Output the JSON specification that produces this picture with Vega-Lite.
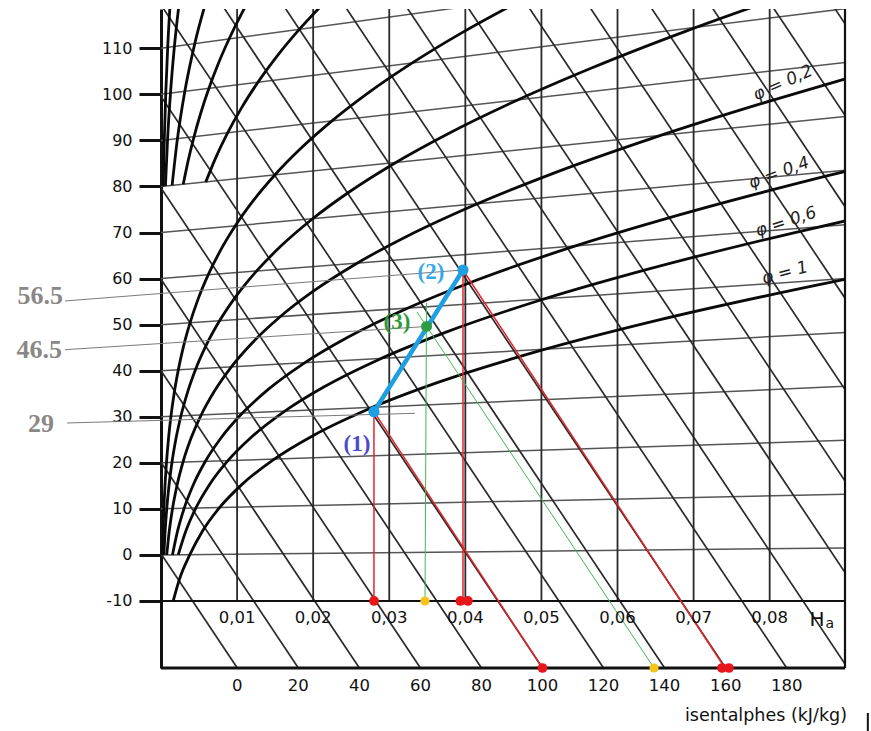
{
  "$schema": "https://vega.github.io/schema/vega-lite/v6.json",
  "width": 684,
  "height": 659,
  "autosize": {"type": "none"},
  "padding": {"left": 161, "top": 9, "right": 26, "bottom": 63},
  "background": "white",
  "config": {"view": {"stroke": null}},
  "datasets": {
    "isotherms": [
      {"T": 0, "Ha": 0, "Y": 0, "Ha2": 0.0899, "Y2": 1.5},
      {"T": 10, "Ha": 0, "Y": 10, "Ha2": 0.0899, "Y2": 13.2},
      {"T": 20, "Ha": 0, "Y": 20, "Ha2": 0.0899, "Y2": 24.9},
      {"T": 30, "Ha": 0, "Y": 30, "Ha2": 0.0899, "Y2": 36.6},
      {"T": 40, "Ha": 0, "Y": 40, "Ha2": 0.0899, "Y2": 48.3},
      {"T": 50, "Ha": 0, "Y": 50, "Ha2": 0.0899, "Y2": 60.0},
      {"T": 60, "Ha": 0, "Y": 60, "Ha2": 0.0899, "Y2": 71.7},
      {"T": 70, "Ha": 0, "Y": 70, "Ha2": 0.0899, "Y2": 83.5},
      {"T": 80, "Ha": 0, "Y": 80, "Ha2": 0.0899, "Y2": 95.2},
      {"T": 90, "Ha": 0, "Y": 90, "Ha2": 0.0899, "Y2": 106.9},
      {"T": 100, "Ha": 0, "Y": 100, "Ha2": 0.0899, "Y2": 118.6},
      {"T": 110, "Ha": 0, "Y": 110, "Ha2": 0.0899, "Y2": 130.3}
    ],
    "isenthalps": [
      {"h": 0, "Ha": 0, "Y": 0.27, "Ha2": 0.010028, "Y2": -24.55},
      {"h": 20, "Ha": 0, "Y": 20.13, "Ha2": 0.018051, "Y2": -24.55},
      {"h": 40, "Ha": 0, "Y": 39.98, "Ha2": 0.026074, "Y2": -24.55},
      {"h": 60, "Ha": 0, "Y": 59.84, "Ha2": 0.034097, "Y2": -24.55},
      {"h": 80, "Ha": 0, "Y": 79.69, "Ha2": 0.04212, "Y2": -24.55},
      {"h": 100, "Ha": 0, "Y": 99.55, "Ha2": 0.050143, "Y2": -24.55},
      {"h": 120, "Ha": 0, "Y": 119.41, "Ha2": 0.058166, "Y2": -24.55},
      {"h": 140, "Ha": 0, "Y": 139.26, "Ha2": 0.066189, "Y2": -24.55},
      {"h": 160, "Ha": 0, "Y": 159.12, "Ha2": 0.074212, "Y2": -24.55},
      {"h": 180, "Ha": 0, "Y": 178.97, "Ha2": 0.082235, "Y2": -24.55},
      {"h": 200, "Ha": 0, "Y": 198.83, "Ha2": 0.090258, "Y2": -24.55},
      {"h": 220, "Ha": 0, "Y": 218.69, "Ha2": 0.098281, "Y2": -24.55},
      {"h": 240, "Ha": 0, "Y": 238.54, "Ha2": 0.106304, "Y2": -24.55},
      {"h": 260, "Ha": 0, "Y": 258.4, "Ha2": 0.114327, "Y2": -24.55},
      {"h": 280, "Ha": 0, "Y": 278.25, "Ha2": 0.12235, "Y2": -24.55},
      {"h": 300, "Ha": 0, "Y": 298.11, "Ha2": 0.130373, "Y2": -24.55},
      {"h": 320, "Ha": 0, "Y": 317.97, "Ha2": 0.138396, "Y2": -24.55},
      {"h": 340, "Ha": 0, "Y": 337.82, "Ha2": 0.146419, "Y2": -24.55}
    ],
    "verticals": [
      {"Ha": 0.01, "Y": -10, "Ha2": 0.01, "Y2": 118.53},
      {"Ha": 0.02, "Y": -10, "Ha2": 0.02, "Y2": 118.53},
      {"Ha": 0.03, "Y": -10, "Ha2": 0.03, "Y2": 118.53},
      {"Ha": 0.04, "Y": -10, "Ha2": 0.04, "Y2": 118.53},
      {"Ha": 0.05, "Y": -10, "Ha2": 0.05, "Y2": 118.53},
      {"Ha": 0.06, "Y": -10, "Ha2": 0.06, "Y2": 118.53},
      {"Ha": 0.07, "Y": -10, "Ha2": 0.07, "Y2": 118.53},
      {"Ha": 0.08, "Y": -10, "Ha2": 0.08, "Y2": 118.53}
    ],
    "frame": [
      {"Ha": 0, "Y": -10, "Ha2": 0.0899, "Y2": -10},
      {"Ha": 0.0899, "Y": -24.55, "Ha2": 0.0899, "Y2": 118.53}
    ],
    "frameBottom": [
      {"Ha": 0, "Y": -24.55, "Ha2": 0.0899, "Y2": -24.55}
    ],
    "phi": [
      {"phi": "1", "T": -10, "Ha": 0.0016, "Y": -10.03},
      {"phi": "1", "T": -5, "Ha": 0.002476, "Y": -5.02},
      {"phi": "1", "T": 0, "Ha": 0.003775, "Y": 0},
      {"phi": "1", "T": 5, "Ha": 0.005403, "Y": 5.05},
      {"phi": "1", "T": 10, "Ha": 0.007632, "Y": 10.15},
      {"phi": "1", "T": 15, "Ha": 0.01065, "Y": 15.32},
      {"phi": "1", "T": 20, "Ha": 0.014699, "Y": 20.59},
      {"phi": "1", "T": 25, "Ha": 0.020086, "Y": 26.0},
      {"phi": "1", "T": 30, "Ha": 0.02721, "Y": 31.63},
      {"phi": "1", "T": 35, "Ha": 0.036585, "Y": 37.56},
      {"phi": "1", "T": 40, "Ha": 0.048894, "Y": 43.91},
      {"phi": "1", "T": 45, "Ha": 0.065057, "Y": 50.86},
      {"phi": "1", "T": 50, "Ha": 0.086345, "Y": 58.63},
      {"phi": "1", "T": 51, "Ha": 0.09131, "Y": 60.31},
      {"phi": "0.6", "T": 0, "Ha": 0.002259, "Y": 0},
      {"phi": "0.6", "T": 5, "Ha": 0.003231, "Y": 5.03},
      {"phi": "0.6", "T": 10, "Ha": 0.004557, "Y": 10.09},
      {"phi": "0.6", "T": 15, "Ha": 0.006346, "Y": 15.19},
      {"phi": "0.6", "T": 20, "Ha": 0.008737, "Y": 20.35},
      {"phi": "0.6", "T": 25, "Ha": 0.011898, "Y": 25.6},
      {"phi": "0.6", "T": 30, "Ha": 0.016045, "Y": 30.96},
      {"phi": "0.6", "T": 35, "Ha": 0.021446, "Y": 36.5},
      {"phi": "0.6", "T": 40, "Ha": 0.028442, "Y": 42.28},
      {"phi": "0.6", "T": 45, "Ha": 0.037466, "Y": 48.37},
      {"phi": "0.6", "T": 50, "Ha": 0.049081, "Y": 54.91},
      {"phi": "0.6", "T": 55, "Ha": 0.064027, "Y": 62.04},
      {"phi": "0.6", "T": 60, "Ha": 0.083308, "Y": 70.0},
      {"phi": "0.6", "T": 62, "Ha": 0.09236, "Y": 73.45},
      {"phi": "0.4", "T": 0, "Ha": 0.001505, "Y": 0},
      {"phi": "0.4", "T": 5, "Ha": 0.00215, "Y": 5.02},
      {"phi": "0.4", "T": 10, "Ha": 0.003031, "Y": 10.06},
      {"phi": "0.4", "T": 15, "Ha": 0.004217, "Y": 15.13},
      {"phi": "0.4", "T": 20, "Ha": 0.005797, "Y": 20.23},
      {"phi": "0.4", "T": 25, "Ha": 0.007882, "Y": 25.39},
      {"phi": "0.4", "T": 30, "Ha": 0.010605, "Y": 30.64},
      {"phi": "0.4", "T": 35, "Ha": 0.014135, "Y": 35.99},
      {"phi": "0.4", "T": 40, "Ha": 0.018677, "Y": 41.49},
      {"phi": "0.4", "T": 45, "Ha": 0.024487, "Y": 47.2},
      {"phi": "0.4", "T": 50, "Ha": 0.031882, "Y": 53.19},
      {"phi": "0.4", "T": 55, "Ha": 0.041268, "Y": 59.54},
      {"phi": "0.4", "T": 60, "Ha": 0.053163, "Y": 66.38},
      {"phi": "0.4", "T": 65, "Ha": 0.06823, "Y": 73.87},
      {"phi": "0.4", "T": 70, "Ha": 0.087374, "Y": 82.23},
      {"phi": "0.4", "T": 72, "Ha": 0.09627, "Y": 85.86},
      {"phi": "0.2", "T": 0, "Ha": 0.000752, "Y": 0},
      {"phi": "0.2", "T": 5, "Ha": 0.001074, "Y": 5.01},
      {"phi": "0.2", "T": 10, "Ha": 0.001511, "Y": 10.03},
      {"phi": "0.2", "T": 15, "Ha": 0.002102, "Y": 15.06},
      {"phi": "0.2", "T": 20, "Ha": 0.002885, "Y": 20.12},
      {"phi": "0.2", "T": 25, "Ha": 0.003916, "Y": 25.2},
      {"phi": "0.2", "T": 30, "Ha": 0.005258, "Y": 30.32},
      {"phi": "0.2", "T": 35, "Ha": 0.006988, "Y": 35.49},
      {"phi": "0.2", "T": 40, "Ha": 0.0092, "Y": 40.74},
      {"phi": "0.2", "T": 45, "Ha": 0.012007, "Y": 46.08},
      {"phi": "0.2", "T": 50, "Ha": 0.015543, "Y": 51.55},
      {"phi": "0.2", "T": 55, "Ha": 0.019972, "Y": 57.2},
      {"phi": "0.2", "T": 60, "Ha": 0.025492, "Y": 63.06},
      {"phi": "0.2", "T": 65, "Ha": 0.032343, "Y": 69.2},
      {"phi": "0.2", "T": 70, "Ha": 0.04082, "Y": 75.71},
      {"phi": "0.2", "T": 75, "Ha": 0.051292, "Y": 82.69},
      {"phi": "0.2", "T": 80, "Ha": 0.064226, "Y": 90.28},
      {"phi": "0.2", "T": 85, "Ha": 0.080212, "Y": 98.64},
      {"phi": "0.2", "T": 88, "Ha": 0.091517, "Y": 104.11},
      {"phi": "0.1", "T": 0, "Ha": 0.000375, "Y": 0},
      {"phi": "0.1", "T": 5, "Ha": 0.000536, "Y": 5.01},
      {"phi": "0.1", "T": 10, "Ha": 0.000755, "Y": 10.02},
      {"phi": "0.1", "T": 15, "Ha": 0.001049, "Y": 15.03},
      {"phi": "0.1", "T": 20, "Ha": 0.001439, "Y": 20.06},
      {"phi": "0.1", "T": 25, "Ha": 0.001951, "Y": 25.1},
      {"phi": "0.1", "T": 30, "Ha": 0.002618, "Y": 30.16},
      {"phi": "0.1", "T": 35, "Ha": 0.003474, "Y": 35.24},
      {"phi": "0.1", "T": 40, "Ha": 0.004566, "Y": 40.37},
      {"phi": "0.1", "T": 45, "Ha": 0.005946, "Y": 45.54},
      {"phi": "0.1", "T": 50, "Ha": 0.007676, "Y": 50.77},
      {"phi": "0.1", "T": 55, "Ha": 0.009828, "Y": 56.08},
      {"phi": "0.1", "T": 60, "Ha": 0.01249, "Y": 61.5},
      {"phi": "0.1", "T": 65, "Ha": 0.015762, "Y": 67.05},
      {"phi": "0.1", "T": 70, "Ha": 0.019762, "Y": 72.77},
      {"phi": "0.1", "T": 75, "Ha": 0.02463, "Y": 78.69},
      {"phi": "0.1", "T": 80, "Ha": 0.030536, "Y": 84.89},
      {"phi": "0.1", "T": 85, "Ha": 0.037675, "Y": 91.4},
      {"phi": "0.1", "T": 90, "Ha": 0.04629, "Y": 98.33},
      {"phi": "0.1", "T": 95, "Ha": 0.056671, "Y": 105.77},
      {"phi": "0.1", "T": 100, "Ha": 0.069184, "Y": 113.84},
      {"phi": "0.1", "T": 103, "Ha": 0.07792, "Y": 119.05},
      {"phi": "0.05", "T": 0, "Ha": 0.000188, "Y": 0},
      {"phi": "0.05", "T": 5, "Ha": 0.000268, "Y": 5.0},
      {"phi": "0.05", "T": 10, "Ha": 0.000377, "Y": 10.01},
      {"phi": "0.05", "T": 15, "Ha": 0.000524, "Y": 15.02},
      {"phi": "0.05", "T": 20, "Ha": 0.000719, "Y": 20.03},
      {"phi": "0.05", "T": 25, "Ha": 0.000974, "Y": 25.05},
      {"phi": "0.05", "T": 30, "Ha": 0.001306, "Y": 30.08},
      {"phi": "0.05", "T": 35, "Ha": 0.001731, "Y": 35.12},
      {"phi": "0.05", "T": 40, "Ha": 0.002275, "Y": 40.18},
      {"phi": "0.05", "T": 45, "Ha": 0.002957, "Y": 45.27},
      {"phi": "0.05", "T": 50, "Ha": 0.003814, "Y": 50.38},
      {"phi": "0.05", "T": 55, "Ha": 0.004875, "Y": 55.54},
      {"phi": "0.05", "T": 60, "Ha": 0.006183, "Y": 60.74},
      {"phi": "0.05", "T": 65, "Ha": 0.007782, "Y": 66.01},
      {"phi": "0.05", "T": 70, "Ha": 0.009726, "Y": 71.36},
      {"phi": "0.05", "T": 75, "Ha": 0.012076, "Y": 76.81},
      {"phi": "0.05", "T": 80, "Ha": 0.014902, "Y": 82.38},
      {"phi": "0.05", "T": 85, "Ha": 0.018284, "Y": 88.11},
      {"phi": "0.05", "T": 90, "Ha": 0.022315, "Y": 94.02},
      {"phi": "0.05", "T": 95, "Ha": 0.027101, "Y": 100.15},
      {"phi": "0.05", "T": 100, "Ha": 0.032769, "Y": 106.55},
      {"phi": "0.05", "T": 105, "Ha": 0.039462, "Y": 113.29},
      {"phi": "0.05", "T": 110, "Ha": 0.047359, "Y": 120.42},
      {"phi": "0.02", "T": 80, "Ha": 0.005876, "Y": 80.94},
      {"phi": "0.02", "T": 85, "Ha": 0.007187, "Y": 86.22},
      {"phi": "0.02", "T": 90, "Ha": 0.008738, "Y": 91.57},
      {"phi": "0.02", "T": 95, "Ha": 0.010564, "Y": 97.01},
      {"phi": "0.02", "T": 100, "Ha": 0.012706, "Y": 102.54},
      {"phi": "0.02", "T": 105, "Ha": 0.015206, "Y": 108.19},
      {"phi": "0.02", "T": 110, "Ha": 0.018116, "Y": 113.99},
      {"phi": "0.02", "T": 115, "Ha": 0.021489, "Y": 119.94},
      {"phi": "0.01", "T": 80, "Ha": 0.002924, "Y": 80.47},
      {"phi": "0.01", "T": 85, "Ha": 0.003573, "Y": 85.61},
      {"phi": "0.01", "T": 90, "Ha": 0.004338, "Y": 90.78},
      {"phi": "0.01", "T": 95, "Ha": 0.005238, "Y": 96.0},
      {"phi": "0.01", "T": 100, "Ha": 0.006289, "Y": 101.26},
      {"phi": "0.01", "T": 105, "Ha": 0.007511, "Y": 106.58},
      {"phi": "0.01", "T": 110, "Ha": 0.008928, "Y": 111.96},
      {"phi": "0.01", "T": 115, "Ha": 0.010562, "Y": 117.43},
      {"phi": "0.01", "T": 120, "Ha": 0.01244, "Y": 122.99},
      {"phi": "0.005", "T": 80, "Ha": 0.00146, "Y": 80.23},
      {"phi": "0.005", "T": 90, "Ha": 0.002161, "Y": 90.39},
      {"phi": "0.005", "T": 100, "Ha": 0.003129, "Y": 100.63},
      {"phi": "0.005", "T": 110, "Ha": 0.004431, "Y": 110.97},
      {"phi": "0.005", "T": 120, "Ha": 0.006156, "Y": 121.48},
      {"phi": "0.002", "T": 80, "Ha": 0.000582, "Y": 80.09},
      {"phi": "0.002", "T": 90, "Ha": 0.000862, "Y": 90.16},
      {"phi": "0.002", "T": 100, "Ha": 0.001246, "Y": 100.25},
      {"phi": "0.002", "T": 110, "Ha": 0.001762, "Y": 110.39},
      {"phi": "0.002", "T": 120, "Ha": 0.002444, "Y": 120.59},
      {"phi": "0.001", "T": 80, "Ha": 0.000291, "Y": 80.05},
      {"phi": "0.001", "T": 90, "Ha": 0.000431, "Y": 90.08},
      {"phi": "0.001", "T": 100, "Ha": 0.000623, "Y": 100.12},
      {"phi": "0.001", "T": 110, "Ha": 0.00088, "Y": 110.19},
      {"phi": "0.001", "T": 120, "Ha": 0.001221, "Y": 120.29}
    ],
    "guides": [
      {"Ha": -0.01262, "Y": 55.14, "Ha2": 0.03969, "Y2": 61.87},
      {"Ha": -0.01262, "Y": 44.56, "Ha2": 0.0349, "Y2": 49.6},
      {"Ha": -0.01235, "Y": 28.65, "Ha2": 0.03338, "Y2": 30.75}
    ],
    "redLines": [
      {"Ha": 0.02799, "Y": 31.1, "Ha2": 0.02799, "Y2": -10},
      {"Ha": 0.03969, "Y": 61.87, "Ha2": 0.03969, "Y2": -10},
      {"Ha": 0.02799, "Y": 31.1, "Ha2": 0.05014, "Y2": -24.55},
      {"Ha": 0.03969, "Y": 61.87, "Ha2": 0.07413, "Y2": -24.55}
    ],
    "greenLines": [
      {"Ha": 0.0349, "Y": 54.7, "Ha2": 0.0347, "Y2": -10},
      {"Ha": 0.03365, "Y": 52.75, "Ha2": 0.0648, "Y2": -24.55}
    ],
    "process": [
      {"Ha": 0.02799, "Y": 31.1, "Ha2": 0.03969, "Y2": 61.87}
    ],
    "bluePts": [
      {"Ha": 0.02799, "Y": 31.1},
      {"Ha": 0.03969, "Y": 61.87}
    ],
    "greenPts": [
      {"Ha": 0.0349, "Y": 49.6}
    ],
    "redPts": [
      {"Ha": 0.028, "Y": -10},
      {"Ha": 0.03935, "Y": -10},
      {"Ha": 0.04034, "Y": -10},
      {"Ha": 0.05014, "Y": -24.55},
      {"Ha": 0.07373, "Y": -24.55},
      {"Ha": 0.07465, "Y": -24.55}
    ],
    "yellowPts": [
      {"Ha": 0.0347, "Y": -10},
      {"Ha": 0.0648, "Y": -24.55}
    ],
    "haLabels": [
      {"label": "0,01", "Ha": 0.01, "Y": -13.69},
      {"label": "0,02", "Ha": 0.02, "Y": -13.69},
      {"label": "0,03", "Ha": 0.03, "Y": -13.69},
      {"label": "0,04", "Ha": 0.04, "Y": -13.69},
      {"label": "0,05", "Ha": 0.05, "Y": -13.69},
      {"label": "0,06", "Ha": 0.06, "Y": -13.69},
      {"label": "0,07", "Ha": 0.07, "Y": -13.69},
      {"label": "0,08", "Ha": 0.08, "Y": -13.69}
    ],
    "hLabels": [
      {"label": "0", "Ha": 0.010028, "Y": -28.35},
      {"label": "20", "Ha": 0.018051, "Y": -28.35},
      {"label": "40", "Ha": 0.026074, "Y": -28.35},
      {"label": "60", "Ha": 0.034097, "Y": -28.35},
      {"label": "80", "Ha": 0.04212, "Y": -28.35},
      {"label": "100", "Ha": 0.050143, "Y": -28.35},
      {"label": "120", "Ha": 0.058166, "Y": -28.35},
      {"label": "140", "Ha": 0.066189, "Y": -28.35},
      {"label": "160", "Ha": 0.074212, "Y": -28.35},
      {"label": "180", "Ha": 0.082235, "Y": -28.35}
    ]
  },
  "encoding": {
    "x": {"field": "Ha", "type": "quantitative", "scale": {"domain": [0, 0.0899], "nice": false, "zero": false}, "axis": null},
    "y": {
      "field": "Y", "type": "quantitative",
      "scale": {"domain": [-24.55, 118.53], "nice": false, "zero": false},
      "axis": {
        "values": [-10, 0, 10, 20, 30, 40, 50, 60, 70, 80, 90, 100, 110],
        "labelExpr": "'' + datum.value",
        "title": null, "grid": false, "labelOverlap": false,
        "tickSize": 22, "tickWidth": 3, "tickColor": "#111",
        "domainWidth": 3, "domainColor": "#111",
        "labelFont": "DejaVu Sans", "labelFontSize": 16, "labelColor": "#111",
        "labelPadding": 7
      }
    }
  },
  "layer": [
    {"data": {"name": "isotherms"}, "mark": {"type": "rule", "clip": true, "stroke": "#555", "strokeWidth": 1.5}, "encoding": {"x2": {"field": "Ha2"}, "y2": {"field": "Y2"}}},
    {"data": {"name": "isenthalps"}, "mark": {"type": "rule", "clip": true, "stroke": "#2a2a2a", "strokeWidth": 1.7}, "encoding": {"x2": {"field": "Ha2"}, "y2": {"field": "Y2"}}},
    {"data": {"name": "verticals"}, "mark": {"type": "rule", "stroke": "#2a2a2a", "strokeWidth": 1.8}, "encoding": {"x2": {"field": "Ha2"}, "y2": {"field": "Y2"}}},
    {"data": {"name": "frame"}, "mark": {"type": "rule", "stroke": "#111", "strokeWidth": 2.2}, "encoding": {"x2": {"field": "Ha2"}, "y2": {"field": "Y2"}}},
    {"data": {"name": "frameBottom"}, "mark": {"type": "rule", "stroke": "#111", "strokeWidth": 3.2}, "encoding": {"x2": {"field": "Ha2"}, "y2": {"field": "Y2"}}},
    {"data": {"name": "phi"}, "mark": {"type": "line", "clip": true, "interpolate": "monotone", "stroke": "#0a0a0a", "strokeWidth": 2.8}, "encoding": {"detail": {"field": "phi"}, "order": {"field": "T", "type": "quantitative"}}},
    {"data": {"name": "guides"}, "mark": {"type": "rule", "stroke": "#7a7a7a", "strokeWidth": 1}, "encoding": {"x2": {"field": "Ha2"}, "y2": {"field": "Y2"}}},
    {"data": {"name": "redLines"}, "mark": {"type": "rule", "stroke": "#e3262a", "strokeWidth": 1.5}, "encoding": {"x2": {"field": "Ha2"}, "y2": {"field": "Y2"}}},
    {"data": {"name": "greenLines"}, "mark": {"type": "rule", "stroke": "#3dbb4f", "strokeWidth": 1}, "encoding": {"x2": {"field": "Ha2"}, "y2": {"field": "Y2"}}},
    {"data": {"name": "process"}, "mark": {"type": "rule", "stroke": "#1f9fe2", "strokeWidth": 4.5, "strokeCap": "round"}, "encoding": {"x2": {"field": "Ha2"}, "y2": {"field": "Y2"}}},
    {"data": {"name": "bluePts"}, "mark": {"type": "circle", "size": 125, "color": "#1f9fe2", "opacity": 1}},
    {"data": {"name": "greenPts"}, "mark": {"type": "circle", "size": 120, "color": "#2e9b47", "opacity": 1}},
    {"data": {"name": "redPts"}, "mark": {"type": "circle", "size": 95, "color": "#e8161b", "opacity": 1}},
    {"data": {"name": "yellowPts"}, "mark": {"type": "circle", "size": 85, "color": "#f6c21c", "opacity": 1}},
    {"data": {"name": "haLabels"}, "mark": {"type": "text", "font": "DejaVu Sans", "fontSize": 16.5, "align": "center", "baseline": "middle", "fill": "#111"}, "encoding": {"text": {"field": "label"}}},
    {"data": {"name": "hLabels"}, "mark": {"type": "text", "font": "DejaVu Sans", "fontSize": 16.5, "align": "center", "baseline": "middle", "fill": "#111"}, "encoding": {"text": {"field": "label"}}},
    {"data": {"values": [{"label": "H", "Ha": 0.08622, "Y": -14.02}]}, "mark": {"type": "text", "font": "DejaVu Sans", "fontSize": 20, "align": "center", "baseline": "middle", "fill": "#111"}, "encoding": {"text": {"field": "label"}}},
    {"data": {"values": [{"label": "a", "Ha": 0.0879, "Y": -14.9}]}, "mark": {"type": "text", "font": "DejaVu Sans", "fontSize": 14, "align": "center", "baseline": "middle", "fill": "#111"}, "encoding": {"text": {"field": "label"}}},
    {"data": {"values": [{"label": "isentalphes (kJ/kg)", "Ha": 0.09016, "Y": -34.97}]}, "mark": {"type": "text", "font": "DejaVu Sans", "fontSize": 17.5, "align": "right", "baseline": "middle", "fill": "#111"}, "encoding": {"text": {"field": "label"}}},
    {"data": {"values": [{"Ha": 0.0929, "Y": -34.32, "Ha2": 0.0929, "Y2": -38.23}]}, "mark": {"type": "rule", "stroke": "#111", "strokeWidth": 2}, "encoding": {"x2": {"field": "Ha2"}, "y2": {"field": "Y2"}}},
    {"data": {"values": [{"label": "φ = 0,2", "Ha": 0.08175, "Y": 102.47}]}, "mark": {"type": "text", "font": "DejaVu Sans", "fontStyle": "italic", "fontSize": 17, "angle": 336, "align": "center", "baseline": "middle", "fill": "#222"}, "encoding": {"text": {"field": "label"}}},
    {"data": {"values": [{"label": "φ = 0,4", "Ha": 0.08122, "Y": 82.93}]}, "mark": {"type": "text", "font": "DejaVu Sans", "fontStyle": "italic", "fontSize": 17, "angle": 340, "align": "center", "baseline": "middle", "fill": "#222"}, "encoding": {"text": {"field": "label"}}},
    {"data": {"values": [{"label": "φ = 0,6", "Ha": 0.08214, "Y": 72.29}]}, "mark": {"type": "text", "font": "DejaVu Sans", "fontStyle": "italic", "fontSize": 17, "angle": 342, "align": "center", "baseline": "middle", "fill": "#222"}, "encoding": {"text": {"field": "label"}}},
    {"data": {"values": [{"label": "φ = 1", "Ha": 0.082, "Y": 61.21}]}, "mark": {"type": "text", "font": "DejaVu Sans", "fontStyle": "italic", "fontSize": 17, "angle": 345, "align": "center", "baseline": "middle", "fill": "#222"}, "encoding": {"text": {"field": "label"}}},
    {"data": {"values": [{"label": "56.5", "Ha": -0.01288, "Y": 56.22}, {"label": "46.5", "Ha": -0.01301, "Y": 44.5}, {"label": "29", "Ha": -0.01406, "Y": 28.43}]}, "mark": {"type": "text", "font": "Liberation Serif", "fontWeight": "bold", "fontSize": 26, "align": "right", "baseline": "middle", "fill": "#8a8886"}, "encoding": {"text": {"field": "label"}}},
    {"data": {"values": [{"label": "(2)", "Ha": 0.03549, "Y": 61.43}]}, "mark": {"type": "text", "font": "Liberation Serif", "fontWeight": "bold", "fontSize": 23, "align": "center", "baseline": "middle", "fill": "#38a8e8"}, "encoding": {"text": {"field": "label"}}},
    {"data": {"values": [{"label": "(3)", "Ha": 0.03102, "Y": 50.58}]}, "mark": {"type": "text", "font": "Liberation Serif", "fontWeight": "bold", "fontSize": 23, "align": "center", "baseline": "middle", "fill": "#2f9a3c"}, "encoding": {"text": {"field": "label"}}},
    {"data": {"values": [{"label": "(1)", "Ha": 0.02576, "Y": 24.09}]}, "mark": {"type": "text", "font": "Liberation Serif", "fontWeight": "bold", "fontSize": 23, "align": "center", "baseline": "middle", "fill": "#4b4bc8"}, "encoding": {"text": {"field": "label"}}}
  ]
}
